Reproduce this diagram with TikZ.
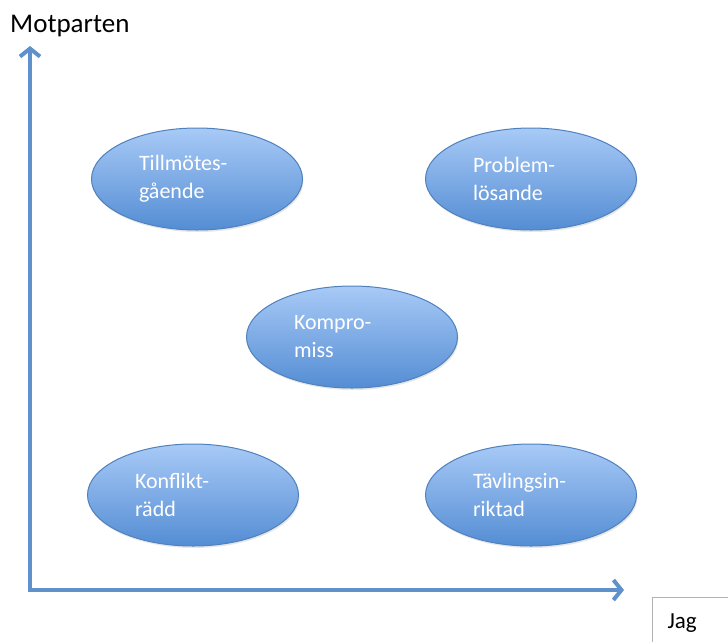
\documentclass[tikz,border=0pt]{standalone}
\usepackage{fontspec}
\setmainfont{Carlito}
\usepackage{xcolor}
\usepackage{tikz}
\usetikzlibrary{shapes.geometric,arrows.meta,shadows}
\definecolor{kant}{RGB}{79,129,189}
\definecolor{ljus}{RGB}{168,202,246}
\definecolor{mork}{RGB}{84,141,212}
\definecolor{pil}{RGB}{95,145,205}
\tikzstyle{strategi} = [ellipse, draw=kant, line width=1pt, top color=ljus, bottom color=mork, minimum width=211pt, minimum height=102pt, text width=116pt, align=left, inner sep=0pt, text=white, font=\fontsize{22}{28}\selectfont, drop shadow={opacity=0.2, shadow xshift=1pt, shadow yshift=-2pt}]
\tikzstyle{axel} = [draw=pil, line width=4pt, -{Straight Barb[length=8pt,width=20pt,line width=4pt]}]

\begin{document}
\begin{tikzpicture}[x=1pt,y=-1pt]
		\useasboundingbox (0,0) rectangle (728,641);
		
		\node [strategi] (tillmotes) at (197,179) {Tillmötes-\\gående};
		\node [strategi] (problem) at (531,179) {Problem-\\lösande};
		\node [strategi] (kompromiss) at (352,337) {Kompro-\\miss};
		\node [strategi] (konflikt) at (193,495) {Konflikt-\\rädd};
		\node [strategi] (tavling) at (531,495) {Tävlingsin-\\riktad};
		
		\coordinate (origo) at (30,590);
		\coordinate (ytopp) at (30,46);
		\coordinate (xslut) at (624,590);
		\draw [axel] ([yshift=-2pt]origo) -- (ytopp);
		\draw [axel] ([xshift=-2pt]origo) -- (xslut);
		
		\node [anchor=base west, inner sep=0pt, font=\fontsize{27}{32}\selectfont] (motparten) at (10,32) {Motparten};
		\node [anchor=north west, draw=black!30, line width=1pt, inner xsep=15pt, inner ysep=16pt, text width=80pt, text depth=30pt, align=left, font=\fontsize{23}{28}\selectfont] (jag) at (652,597) {Jag};
	\end{tikzpicture}
\end{document}
